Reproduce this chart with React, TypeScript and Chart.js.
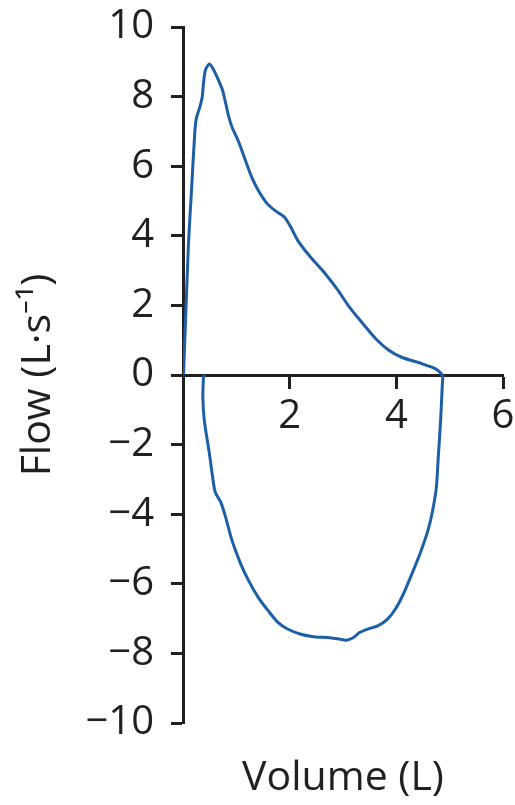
import React, { useEffect, useRef } from 'react';
import { Chart, registerables } from 'chart.js';

Chart.register(...registerables);

// Expiratory limb (upper curve), volume in L and flow in L/s
const expVolume = [0.01, 0.1, 0.16, 0.22, 0.25, 0.31, 0.36, 0.385, 0.42, 0.495, 0.556, 0.648, 0.74, 0.8, 0.86, 0.92, 1.046, 1.17, 1.29, 1.41, 1.57, 1.72, 1.9, 2.02, 2.15, 2.39, 2.64, 2.88, 3.12, 3.37, 3.61, 3.86, 4.1, 4.47, 4.72, 4.84, 4.86];
const expFlow = [0, 3.68, 5.32, 6.95, 7.38, 7.67, 7.99, 8.39, 8.76, 8.94, 8.82, 8.53, 8.19, 7.81, 7.41, 7.12, 6.69, 6.17, 5.68, 5.31, 4.94, 4.73, 4.54, 4.25, 3.87, 3.39, 2.96, 2.49, 1.95, 1.48, 1.05, 0.71, 0.51, 0.33, 0.19, 0.05, 0];

// Inspiratory limb (lower curve), from its left start to the right end
const inspVolume = [0.385, 0.372, 0.4, 0.495, 0.556, 0.605, 0.71, 0.8, 0.92, 1.08, 1.23, 1.41, 1.6, 1.78, 1.96, 2.21, 2.45, 2.76, 2.94, 3.06, 3.19, 3.31, 3.46, 3.65, 3.83, 3.98, 4.13, 4.29, 4.44, 4.59, 4.68, 4.75, 4.79, 4.83, 4.86, 4.87];
const inspFlow = [0, -0.64, -1.31, -2.26, -2.94, -3.37, -3.66, -4.09, -4.76, -5.42, -5.91, -6.39, -6.78, -7.11, -7.3, -7.45, -7.52, -7.55, -7.59, -7.62, -7.55, -7.4, -7.3, -7.21, -7.02, -6.73, -6.3, -5.72, -5.15, -4.48, -3.9, -3.23, -2.27, -1.31, -0.35, -0.06];

const xTickLabels = ['', '2', '4', '6'];
const yTickLabels = ['\u221210', '\u22128', '\u22126', '\u22124', '\u22122', '0', '2', '4', '6', '8', '10'];

const xTitle = 'Volume (L)';
const yTitle = 'Flow (L\u00b7s\u207b\u00b9)';

const INK = '#231f20';
const LINE = '#1c5fa6';
const FONT = '"Open Sans", "Noto Sans", "DejaVu Sans", sans-serif';

export default function App() {
  const ref = useRef<HTMLCanvasElement | null>(null);

  useEffect(() => {
    if (!ref.current) return;
    const points: { x: number; y: number }[] = [];
    expVolume.forEach((v, i) => points.push({ x: v, y: expFlow[i] }));
    for (let i = inspVolume.length - 1; i >= 0; i--) {
      points.push({ x: inspVolume[i], y: inspFlow[i] });
    }

    const chart = new Chart(ref.current, {
      type: 'scatter',
      data: {
        datasets: [
          {
            data: points,
            showLine: true,
            borderColor: LINE,
            borderWidth: 3,
            pointRadius: 0,
            tension: 0.25,
            fill: false,
            xAxisID: 'x',
            yAxisID: 'y',
          },
        ],
      },
      options: {
        animation: false,
        responsive: false,
        devicePixelRatio: 1,
        layout: { padding: { top: 27, right: 12, left: 0, bottom: 0 } },
        plugins: { legend: { display: false }, tooltip: { enabled: false } },
        scales: {
          x: {
            type: 'linear',
            position: { y: 0 } as any,
            min: 0,
            max: 6,
            ticks: {
              stepSize: 2,
              color: INK,
              font: { family: FONT, size: 40 },
              padding: 6,
              maxRotation: 0,
              callback: (_v: any, i: number) => xTickLabels[i],
            },
            grid: {
              drawOnChartArea: false,
              drawTicks: true,
              tickLength: 12,
              tickWidth: 3,
              tickColor: INK,
            },
            border: { display: true, color: INK, width: 3 },
            afterFit: (s: any) => {
              s.paddingLeft = 0;
              s.paddingRight = 0;
            },
          },
          x2: {
            type: 'linear',
            position: 'bottom',
            min: 0,
            max: 6,
            ticks: { display: false },
            grid: { display: false },
            border: { display: false },
            title: {
              display: true,
              text: xTitle,
              color: INK,
              font: { family: FONT, size: 41 },
              padding: { top: 0, bottom: 2 },
            },
            afterFit: (s: any) => {
              s.height = 82;
              s.paddingLeft = 0;
              s.paddingRight = 0;
            },
          },
          y: {
            type: 'linear',
            position: 'left',
            min: -10,
            max: 10,
            ticks: {
              stepSize: 2,
              color: INK,
              font: { family: FONT, size: 40 },
              padding: 17,
              callback: (_v: any, i: number) => yTickLabels[i],
            },
            grid: {
              drawOnChartArea: false,
              drawTicks: true,
              tickLength: 12,
              tickWidth: 3,
              tickColor: INK,
            },
            border: { display: true, color: INK, width: 3 },
            title: {
              display: true,
              text: yTitle,
              color: INK,
              font: { family: FONT, size: 41 },
              padding: { top: 14, bottom: 0 },
            },
            afterFit: (s: any) => {
              s.width = 183;
              s.paddingTop = 0;
              s.paddingBottom = 0;
            },
          },
        },
      },
    });
    return () => chart.destroy();
  }, []);

  return (
    <canvas
      ref={ref}
      width={515}
      height={805}
      style={{ position: 'fixed', left: 0, top: 0, width: 515, height: 805, background: '#fff' }}
    />
  );
}
